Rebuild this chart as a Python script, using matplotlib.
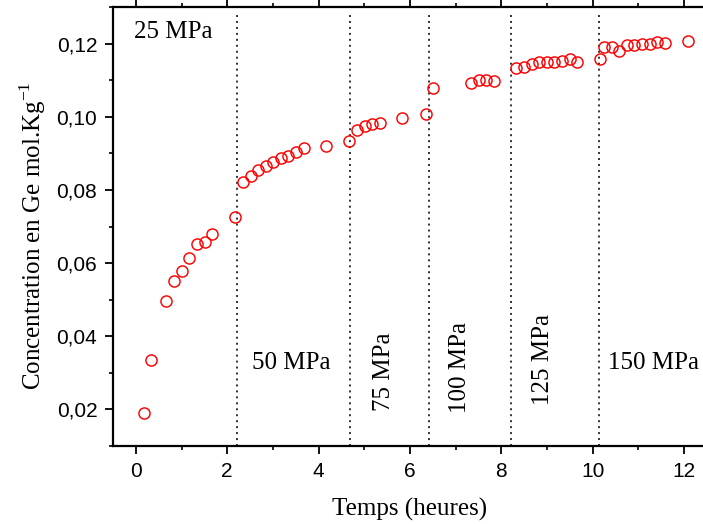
import matplotlib
matplotlib.use("Agg")
import matplotlib.pyplot as plt
from matplotlib.ticker import MultipleLocator, FuncFormatter

# Data (time in hours, Ge concentration in mol/kg)
temps = [0.175, 0.335, 0.67, 0.84, 1.01, 1.17, 1.34, 1.51, 1.67, 2.17,
         2.34, 2.51, 2.68, 2.84, 3.00, 3.17, 3.34, 3.51, 3.68, 4.17, 4.67,
         4.84, 5.01, 5.17, 5.34, 5.83, 6.34,
         6.50, 7.33, 7.50, 7.66, 7.83,
         8.32, 8.50, 8.66, 8.83, 8.99, 9.16, 9.33, 9.50, 9.66,
         10.16, 10.25, 10.42, 10.58, 10.74, 10.91, 11.08, 11.25, 11.41, 11.58, 12.08]
concentration = [0.0190, 0.0335, 0.0496, 0.0552, 0.0577, 0.0615, 0.0653, 0.0657, 0.0680, 0.0726,
                 0.0823, 0.0837, 0.0855, 0.0866, 0.0877, 0.0888, 0.0892, 0.0903, 0.0914, 0.0921, 0.0933,
                 0.0965, 0.0974, 0.0981, 0.0983, 0.0997, 0.1007,
                 0.1079, 0.1093, 0.1100, 0.1100, 0.1098,
                 0.1132, 0.1137, 0.1143, 0.1151, 0.1151, 0.1149, 0.1153, 0.1157, 0.1151,
                 0.1157, 0.1190, 0.1190, 0.1180, 0.1195, 0.1197, 0.1200, 0.1199, 0.1204, 0.1202, 0.1208]

pressure_changes = [2.21, 4.69, 6.42, 8.21, 10.14]
pressure_labels = ["25 MPa", "50 MPa", "75 MPa", "100 MPa", "125 MPa", "150 MPa"]
label_x = [-0.04, 2.54, 5.43, 7.09, 8.91, 10.33]
label_y = [0.1233, 0.0328, 0.0304, 0.0315, 0.0337, 0.0328]
label_rot = [0, 0, 90, 90, 90, 0]

serif = "Liberation Serif"
sans = "Liberation Sans"

fig = plt.figure(figsize=(7.03, 5.24), dpi=100)
ax = fig.add_axes([113/703, 78/524, 594/703, 439/524])

for xv in pressure_changes:
    ax.axvline(xv, ymin=0, ymax=0.985, color="#222222", lw=1.3,
               linestyle=(0, (1.1, 2.2)), zorder=1)

ax.plot(temps, concentration, linestyle="none", marker="o", markersize=8.0,
        markerfacecolor="none", markeredgecolor="red", markeredgewidth=1.05, zorder=3)

for txt, x, y, r in zip(pressure_labels, label_x, label_y, label_rot):
    if r == 0:
        ax.text(x, y, txt, fontsize=18, family=serif, ha="left", va="center", rotation=0)
    else:
        ax.text(x, y, txt, fontsize=18, family=serif, ha="center", va="center", rotation=90)

ax.set_xlim(-0.5, 12.5)
ax.set_ylim(0.01, 0.13)
ax.xaxis.set_major_locator(MultipleLocator(2))
ax.xaxis.set_minor_locator(MultipleLocator(1))
ax.yaxis.set_major_locator(MultipleLocator(0.02))
ax.yaxis.set_minor_locator(MultipleLocator(0.01))
ax.yaxis.set_major_formatter(FuncFormatter(lambda v, p: f"{v:.2f}".replace(".", ",")))
ax.xaxis.set_major_formatter(FuncFormatter(lambda v, p: f"{v:.0f}"))

ax.tick_params(which="major", direction="out", length=5.8, width=1.3, pad=5.5)
ax.tick_params(which="minor", direction="out", length=3, width=1.2)
ax.tick_params(axis="x", which="both", top=True)
ax.tick_params(axis="x", which="both", labeltop=False)
ax.tick_params(axis="x", which="major", pad=6)
for lab in ax.get_xticklabels() + ax.get_yticklabels():
    lab.set_fontfamily(sans)
    lab.set_fontsize(15)

for s in ax.spines.values():
    s.set_linewidth(1.6)
ax.spines["right"].set_visible(False)

ax.set_xlabel("Temps (heures)", fontsize=18, family=serif, labelpad=12)
ax.set_ylabel(r"Concentration en Ge mol.Kg$^{\mathregular{-1}}$", fontsize=18, family=serif, labelpad=6)
ax.yaxis.label.set_y(0.478)

fig.savefig("out.png", dpi=100)
